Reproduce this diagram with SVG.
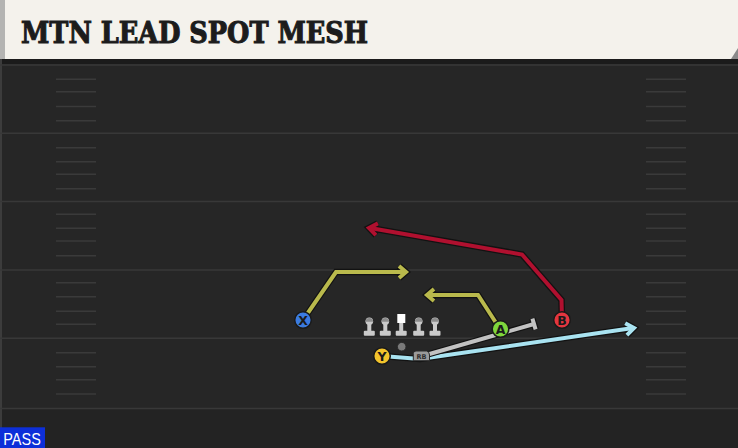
<svg xmlns="http://www.w3.org/2000/svg" width="738" height="448" viewBox="0 0 738 448">
<defs>
<style>
.yard{stroke:#383838;stroke-width:1.6}
.hash{stroke:#3a3a3a;stroke-width:1.6}
.out{fill:none;stroke:#121212;stroke-width:6.5;stroke-linejoin:miter;stroke-linecap:butt}
.rt{fill:none;stroke-width:4;stroke-linejoin:miter;stroke-linecap:butt}
.olive{stroke:#b9b94c}
.red{stroke:#b0102f}
.blue{stroke:#a9e3f1}
.gray{stroke:#c2c2c2}
.pc{stroke:#1a1a1a;stroke-width:1.5}
.pl{font-family:"DejaVu Sans","Liberation Sans",sans-serif;font-weight:bold;font-size:12.5px;fill:#1a1a1a;text-anchor:middle}
.lmh{fill:#8c8c8c}
.lmb{fill:#cacaca}
</style>
<g id="lm">
<rect class="lmb" x="-2" y="0" width="4" height="10"/>
<rect class="lmb" x="-5.5" y="9.5" width="11" height="5" rx="1"/>
<circle class="lmb" cx="0" cy="0" r="3.8"/>
<path class="lmh" d="M-3.8,0.5 A3.8,3.8 0 0 1 3.8,0.5 Z"/>
</g>
</defs>

<!-- background field -->
<rect x="0" y="0" width="738" height="448" fill="#262626"/>
<rect x="0" y="59" width="738" height="5" fill="#1b1b1b"/>
<rect x="0" y="409" width="738" height="39" fill="#232323"/>
<rect x="0" y="59" width="2" height="389" fill="#3c3c3c"/>

<g id="field-lines">
<line class="yard" x1="0" y1="65" x2="738" y2="65"/>
<line class="yard" x1="0" y1="133.3" x2="738" y2="133.3"/>
<line class="yard" x1="0" y1="201.5" x2="738" y2="201.5"/>
<line class="yard" x1="0" y1="270" x2="738" y2="270"/>
<line class="yard" x1="0" y1="338.3" x2="738" y2="338.3"/>
<line class="yard" x1="0" y1="408.5" x2="738" y2="408.5"/>
</g>
<g id="hashes">
<path class="hash" d="M56,79.3H96M56,91.7H96M56,106.5H96M56,120.7H96M56,147.7H96M56,161.7H96M56,174.3H96M56,188.7H96M56,214.3H96M56,228.3H96M56,241H96M56,255.7H96M56,282.7H96M56,296.7H96M56,311.3H96M56,324.3H96M56,352.7H96M56,366.7H96M56,379.7H96M56,394H96"/>
<path class="hash" d="M646,79.3H686M646,91.7H686M646,106.5H686M646,120.7H686M646,147.7H686M646,161.7H686M646,174.3H686M646,188.7H686M646,214.3H686M646,228.3H686M646,241H686M646,255.7H686M646,282.7H686M646,296.7H686M646,311.3H686M646,324.3H686M646,352.7H686M646,366.7H686M646,379.7H686M646,394H686"/>
</g>

<!-- header -->
<g id="header">
<polygon points="724,59 738,44 738,59" fill="#8a8a8a"/>
<polygon points="0,0 738,0 738,48 731,59 0,59" fill="#f4f2ec"/>
<rect x="0" y="0" width="5" height="59" fill="#b4b4b2"/>
<text x="21" y="43.3" textLength="347" lengthAdjust="spacingAndGlyphs" font-family="'DejaVu Serif','Liberation Serif',serif" font-weight="bold" font-size="30" fill="#1c1c1c" stroke="#1c1c1c" stroke-width="1.1">MTN LEAD SPOT MESH</text>
</g>

<!-- connectors / routes -->
<g id="connectors">
<!-- X route -->
<path class="out" d="M303,320 L336,272 L405,272"/>
<path class="out" d="M399,266 L406,272 L399,278"/>
<path class="rt olive" d="M303,320 L336,272 L405,272"/>
<path class="rt olive" d="M399,266 L406,272 L399,278"/>
<!-- A route -->
<path class="out" d="M500,329 L478,295 L428,295"/>
<path class="out" d="M434,289 L427,295 L434,301"/>
<path class="rt olive" d="M500,329 L478,295 L428,295"/>
<path class="rt olive" d="M434,289 L427,295 L434,301"/>
<!-- B route -->
<path class="out" d="M562,320 L561.5,300 L522,254.5 L370,228"/>
<path class="out" d="M377.9,223.4 L369,228 L375.9,235.2"/>
<path class="rt red" d="M562,320 L561.5,300 L522,254.5 L370,228"/>
<path class="rt red" d="M377.9,223.4 L369,228 L375.9,235.2"/>
<!-- Y route -->
<path class="out" d="M382,356 L420,359 L633,328"/>
<path class="out" d="M625.2,323.2 L634,328 L626.9,335.1"/>
<path class="rt blue" d="M382,356 L420,359 L633,328"/>
<path class="rt blue" d="M625.2,323.2 L634,328 L626.9,335.1"/>
<!-- RB route -->
<path class="out" d="M426,355 L534,324"/>
<path class="out" d="M532.4,318.6 L535.6,329.4"/>
<path class="rt gray" d="M426,355 L534,324"/>
<path class="rt gray" d="M532.4,318.6 L535.6,329.4"/>
</g>

<!-- offensive line -->
<g id="line">
<use href="#lm" x="369.3" y="321.3"/>
<use href="#lm" x="385.3" y="321.3"/>
<g id="center">
<rect class="lmb" x="399.2" y="322" width="4" height="10"/>
<rect class="lmb" x="395.7" y="330.8" width="11" height="5" rx="1"/>
<rect x="397.3" y="314" width="8" height="9" fill="#ffffff"/>
</g>
<use href="#lm" x="418.7" y="321.3"/>
<use href="#lm" x="435" y="321.3"/>
</g>

<g id="QB"><circle cx="401.7" cy="346.7" r="4.3" fill="#7a7a7a" stroke="#2a2a2a" stroke-width="1"/></g>

<g id="RB">
<path d="M413.3,360.7 L413.3,353.5 Q413.3,351 416,351 L426.5,351 Q429.5,351.5 429.5,355 L429.5,360.7 Z" fill="#9a9a9a" stroke="#2a2a2a" stroke-width="1"/>
<text x="421.5" y="358.8" font-family="'DejaVu Sans','Liberation Sans',sans-serif" font-weight="bold" font-size="6.5" fill="#2e2e2e" text-anchor="middle">RB</text>
</g>

<g id="X">
<circle class="pc" cx="303" cy="320" r="8.3" fill="#3b7be0"/>
<text class="pl" x="303" y="324.5">X</text>
</g>
<g id="Y">
<circle class="pc" cx="382" cy="356" r="8.3" fill="#f3c42c"/>
<text class="pl" x="382" y="360.5">Y</text>
</g>
<g id="A">
<circle class="pc" cx="500.5" cy="329" r="8.3" fill="#7fd63c"/>
<text class="pl" x="500.5" y="333.5">A</text>
</g>
<g id="B">
<circle class="pc" cx="562" cy="320" r="8.3" fill="#e5363f"/>
<text class="pl" x="562" y="324.5">B</text>
</g>

<g id="pass-label">
<rect x="0" y="427.3" width="45" height="20.7" fill="#0d2fd9"/>
<text x="3.3" y="445" textLength="37.5" lengthAdjust="spacingAndGlyphs" font-family="'Liberation Sans',Arial,sans-serif" font-size="16.5" fill="#ffffff">PASS</text>
</g>
</svg>
